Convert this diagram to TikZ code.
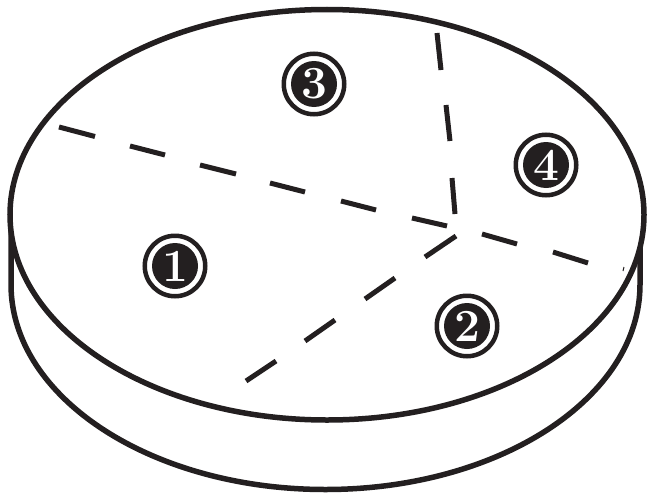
\documentclass[tikz,border=0pt]{standalone}
\usepackage{tikz}
\definecolor{ink}{HTML}{231F20}
\tikzset{
	rim/.style={draw=ink, line width=5.5pt},
	cut/.style={draw=ink, line width=5pt},
	numring/.style={circle, draw=ink, line width=4.5pt, fill=white, minimum size=60.5pt, inner sep=0pt},
	numdisk/.style={circle, fill=ink, text=white, minimum size=46pt, inner sep=0pt, font=\fontsize{46}{46}\selectfont\bfseries}
}
\begin{document}
\begin{tikzpicture}[x=1pt,y=-1pt]
	\useasboundingbox (0,0) rectangle (647,495);
	% puck side
	\draw[rim] (11,225) -- (11,284.5) arc[start angle=180, end angle=0, x radius=314.5, y radius=205] -- (640,225);
	% puck face
	\draw[rim, fill=white] (327,214.75) ellipse[x radius=317, y radius=205.25];
	% cuts
	\draw[cut] (59,127) -- (95,136.5);
	\draw[cut] (130,146) -- (165,155);
	\draw[cut] (200,165) -- (236,174);
	\draw[cut] (270,183) -- (305,192);
	\draw[cut] (341,201) -- (376,210);
	\draw[cut] (412,218) -- (447,226);
	\draw[cut] (482,234) -- (517,244);
	\draw[cut] (553,252) -- (588,263);
	\draw[cut] (437,33) -- (441,70);
	\draw[cut] (446,105) -- (450,141);
	\draw[cut] (452,178) -- (455,214);
	\draw[cut] (456,236) -- (425,257);
	\draw[cut] (395,278) -- (365,299);
	\draw[cut] (335,320) -- (305,341);
	\draw[cut] (276,361) -- (246,381);
	\draw[ink, line width=1pt] (623,271) -- (624,267);
	% numbers
	\node[numring] (ring1) at (175,266) {};
	\node[numdisk] (num1) at (ring1.center) {1};
	\node[numring] (ring2) at (467,326) {};
	\node[numdisk] (num2) at (ring2.center) {2};
	\node[numring] (ring3) at (314,84) {};
	\node[numdisk] (num3) at (ring3.center) {3};
	\node[numring] (ring4) at (546,165) {};
	\node[numdisk] (num4) at (ring4.center) {4};
\end{tikzpicture}
\end{document}
